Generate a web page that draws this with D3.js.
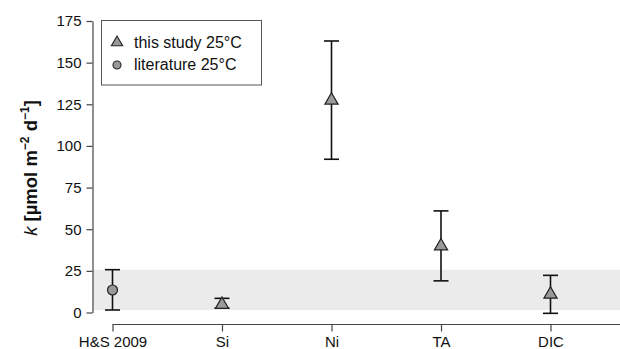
<!DOCTYPE html>
<html>
<head>
<meta charset="utf-8">
<script src="https://cdn.jsdelivr.net/npm/d3@7"></script>
<style>
body { margin: 0; background: #fff; }
svg text { font-family: "Liberation Sans", Arial, sans-serif; }
</style>
</head>
<body>
<div id="chart"></div>
<script>
// data
let categories = ["H&S 2009", "Si", "Ni", "TA", "DIC"];
let means = [13.5, 5.3, 128, 40.5, 11.5];
let lowers = [1.5, 2.6, 92, 19, -0.5];
let uppers = [25.7, 8.5, 163, 61, 22.3];
let kinds = ["literature", "study", "study", "study", "study"];
let yTicks = [0, 25, 50, 75, 100, 125, 150, 175];
let band = [1.5, 25.7];

let width = 620, height = 349;
let svg = d3.select("#chart").append("svg").attr("width", width).attr("height", height);

let scaleY = d3.scaleLinear().domain([0, 175]).range([312.5, 21]);
let scaleX = d3.scalePoint().domain(categories).range([112.5, 550.5]);

// grey band
svg.append("rect")
  .attr("x", 93).attr("width", width - 93)
  .attr("y", scaleY(band[1])).attr("height", scaleY(band[0]) - scaleY(band[1]))
  .attr("fill", "#ebebeb");

// axes
let axisY = d3.axisLeft(scaleY).tickValues(yTicks).tickSize(6).tickPadding(5).tickSizeOuter(0);
let gy = svg.append("g").attr("transform", "translate(92.5,0)").call(axisY);
let axisX = d3.axisBottom(scaleX).tickSize(7).tickPadding(5).tickSizeOuter(0);
let gx = svg.append("g").attr("transform", "translate(0,324.5)").call(axisX);
gx.select(".domain").attr("d", "M112.5,0H620");
[gx, gy].forEach(g => {
  g.attr("font-size", 15).attr("font-family", "Liberation Sans, Arial, sans-serif");
  g.select(".domain").attr("stroke", "#444").attr("stroke-width", 1.2);
  g.selectAll(".tick line").attr("stroke", "#444").attr("stroke-width", 1.2);
  g.selectAll(".tick text").attr("fill", "#111");
});

// error bars
let capW = 7.5;
let bars = svg.append("g").attr("stroke", "#111").attr("stroke-width", 1.6);
categories.forEach((c, i) => {
  let x = scaleX(c);
  bars.append("line").attr("x1", x).attr("x2", x).attr("y1", scaleY(lowers[i])).attr("y2", scaleY(uppers[i]));
  bars.append("line").attr("x1", x - capW).attr("x2", x + capW).attr("y1", scaleY(lowers[i])).attr("y2", scaleY(lowers[i]));
  bars.append("line").attr("x1", x - capW).attr("x2", x + capW).attr("y1", scaleY(uppers[i])).attr("y2", scaleY(uppers[i]));
});

// points
let triangle = d3.symbol().type(d3.symbolTriangle).size(75);
categories.forEach((c, i) => {
  let x = scaleX(c), y = scaleY(means[i]);
  if (kinds[i] == "literature") {
    svg.append("circle").attr("cx", x).attr("cy", y).attr("r", 5)
      .attr("fill", "#999").attr("stroke", "#222").attr("stroke-width", 1.2);
  } else {
    svg.append("path").attr("d", triangle).attr("transform", "translate(" + x + "," + (y + 1) + ")")
      .attr("fill", "#999").attr("stroke", "#222").attr("stroke-width", 1.2);
  }
});

// legend
let leg = svg.append("g");
leg.append("rect").attr("x", 101.5).attr("y", 20.5).attr("width", 160).attr("height", 64.5)
  .attr("fill", "#fff").attr("stroke", "#555").attr("stroke-width", 1);
leg.append("path").attr("d", d3.symbol().type(d3.symbolTriangle).size(55))
  .attr("transform", "translate(117,42.5)")
  .attr("fill", "#999").attr("stroke", "#222").attr("stroke-width", 1.1);
leg.append("circle").attr("cx", 117).attr("cy", 65).attr("r", 4)
  .attr("fill", "#999").attr("stroke", "#222").attr("stroke-width", 1.1);
leg.append("text").attr("x", 134).attr("y", 47.5).attr("font-size", 16).attr("fill", "#111").text("this study 25°C");
leg.append("text").attr("x", 134).attr("y", 70).attr("font-size", 16).attr("fill", "#111").text("literature 25°C");

// y label
let yl = svg.append("text").attr("transform", "translate(37,168) rotate(-90)")
  .attr("text-anchor", "middle").attr("font-size", 18.5).attr("font-weight", "bold").attr("fill", "#111");
yl.append("tspan").attr("font-style", "italic").attr("font-weight", "normal").text("k");
yl.append("tspan").text(" [µmol m");
yl.append("tspan").attr("font-size", 12).attr("dy", -8).text("\u22122");
yl.append("tspan").attr("dy", 8).text(" d");
yl.append("tspan").attr("font-size", 12).attr("dy", -8).text("\u22121");
yl.append("tspan").attr("dy", 8).text("]");
</script>
</body>
</html>
